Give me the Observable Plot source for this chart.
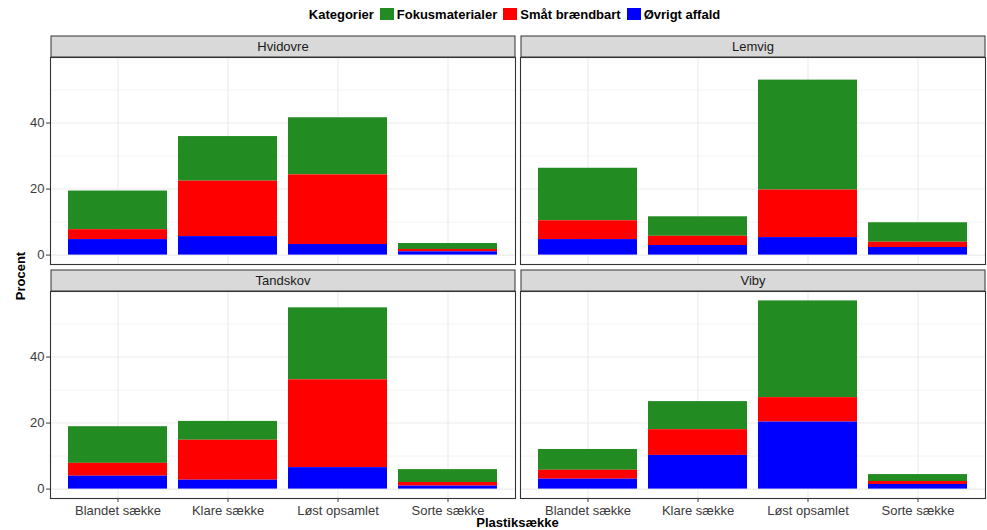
<!DOCTYPE html>
<html>
<head>
<meta charset="utf-8">
<script src="https://cdn.jsdelivr.net/npm/d3@7"></script>
<script src="https://cdn.jsdelivr.net/npm/@observablehq/plot@0.6"></script>
<style>
  html, body { margin: 0; padding: 0; background: #fff; }
  #wrap { position: relative; width: 987px; height: 530px; font-family: "Liberation Sans", Arial, sans-serif; }
  #legend { height: 28px; box-sizing: border-box; padding-left: 49px; padding-right: 1px; display: flex; align-items: center; justify-content: center; font-weight: bold; font-size: 13px; color: #000; }
  #legend .key { display: inline-block; width: 14px; height: 12px; margin-right: 3px; }
  #legend .lab { margin-right: 6px; }
  #xlabel { height: 14px; line-height: 14px; box-sizing: border-box; padding-left: 49px; padding-right: 1px; text-align: center; font-weight: bold; font-size: 13px; color: #000; }
  #ylabel { position: absolute; left: 20px; top: 276px; transform: translate(-50%, -50%) rotate(-90deg); font-weight: bold; font-size: 13px; color: #000; white-space: nowrap; }
  #chart svg { display: block; overflow: visible; }
</style>
</head>
<body>
<div id="wrap">
  <div id="legend"></div>
  <div id="chart"></div>
  <div id="xlabel">Plastiksække</div>
  <div id="ylabel">Procent</div>
</div>
<script>
// ---- Data ----
const regions = ["Hvidovre", "Lemvig", "Tandskov", "Viby"];
const sacks = ["Blandet sække", "Klare sække", "Løst opsamlet", "Sorte sække"];
const categories = ["Fokusmaterialer", "Småt brændbart", "Øvrigt affald"];
const categoryColors = ["#228B22", "#FF0000", "#0000FF"];
const stackOrder = ["Øvrigt affald", "Småt brændbart", "Fokusmaterialer"];
const yTicks = [0, 20, 40];
const yMinorTicks = [10, 30, 50];

// values per region (Hvidovre, Lemvig, Tandskov, Viby), each in sack order
const fokusmaterialer = [
  11.7, 13.5, 17.3, 1.8,
  15.9, 5.9, 33.3, 5.9,
  11.1, 5.7, 21.8, 3.9,
  6.3, 8.5, 29.3, 2.1
];
const smaatBraendbart = [
  3.0, 16.8, 21.1, 0.7,
  5.7, 2.8, 14.4, 1.6,
  3.9, 12.1, 26.6, 1.1,
  2.7, 7.8, 7.4, 0.9
];
const oevrigtAffald = [
  4.7, 5.6, 3.2, 1.0,
  4.7, 2.9, 5.3, 2.3,
  3.9, 2.7, 6.5, 0.9,
  3.0, 10.2, 20.3, 1.4
];

// ---- Build table ----
const seriesByCat = {
  "Fokusmaterialer": fokusmaterialer,
  "Småt brændbart": smaatBraendbart,
  "Øvrigt affald": oevrigtAffald
};
const rows = [];
regions.forEach((region, ri) => {
  sacks.forEach((sack, si) => {
    categories.forEach(cat => {
      rows.push({region, col: ri % 2, row: Math.floor(ri / 2), sack, cat, value: seriesByCat[cat][ri * sacks.length + si]});
    });
  });
});
const strips = regions.map((region, ri) => ({region, col: ri % 2, row: Math.floor(ri / 2)}));

const maxTotal = d3.max(d3.rollups(rows, v => d3.sum(v, d => d.value), d => d.region, d => d.sack).flatMap(([, a]) => a.map(([, s]) => s)));
const pad = maxTotal * 0.05;

// ---- Legend ----
const legend = document.getElementById("legend");
const t = document.createElement("span");
t.className = "lab"; t.textContent = "Kategorier"; legend.appendChild(t);
categories.forEach((c, i) => {
  const k = document.createElement("span");
  k.className = "key"; k.style.background = categoryColors[i]; legend.appendChild(k);
  const l = document.createElement("span");
  l.className = "lab"; l.textContent = c; legend.appendChild(l);
});

// ---- Chart ----
const gridColor = "#EBEBEB";
const chart = Plot.plot({
  width: 987,
  height: 488,
  marginLeft: 49,
  marginRight: 1,
  marginTop: 29,
  marginBottom: 18,
  style: {fontFamily: "Liberation Sans, Arial, sans-serif", fontSize: "13px", background: "#fff"},
  fx: {domain: [0, 1], axis: null, paddingInner: 0.0106, paddingOuter: 0},
  fy: {domain: [0, 1], axis: null, paddingInner: 0.1154, paddingOuter: 0},
  x: {domain: sacks, paddingInner: 0.1, paddingOuter: 0.15, label: null, axis: null},
  y: {domain: [-pad, maxTotal + pad], label: null, axis: null},
  color: {domain: categories, range: categoryColors},
  marks: [
    Plot.gridY(yMinorTicks, {stroke: gridColor, strokeOpacity: 1, strokeWidth: 0.6}),
    Plot.gridY(yTicks, {stroke: gridColor, strokeOpacity: 1, strokeWidth: 1.1}),
    Plot.gridX(sacks, {stroke: gridColor, strokeOpacity: 1, strokeWidth: 1.1}),
    Plot.barY(rows, {fx: "col", fy: "row", x: "sack", y: "value", fill: "cat", order: stackOrder}),
    Plot.frame({stroke: "#333", strokeWidth: 1.1}),
    Plot.frame({anchor: "top", stroke: "#333", strokeWidth: 22, strokeLinecap: "butt", dy: -11}),
    Plot.frame({anchor: "top", stroke: "#D9D9D9", strokeWidth: 20, strokeLinecap: "butt", dy: -11, insetLeft: 1, insetRight: 1}),
    Plot.text(strips, {fx: "col", fy: "row", text: "region", frameAnchor: "top", dy: -11, lineAnchor: "middle", fontSize: 13, fill: "#1A1A1A"}),
    Plot.axisY({ticks: yTicks, tickSize: 4, tickPadding: 2, fontSize: 13, color: "#3a3a3a", label: null}),
    Plot.axisX({tickSize: 4, tickPadding: 3, fontSize: 13, color: "#3a3a3a", label: null})
  ]
});
document.getElementById("chart").appendChild(chart);
</script>
</body>
</html>
